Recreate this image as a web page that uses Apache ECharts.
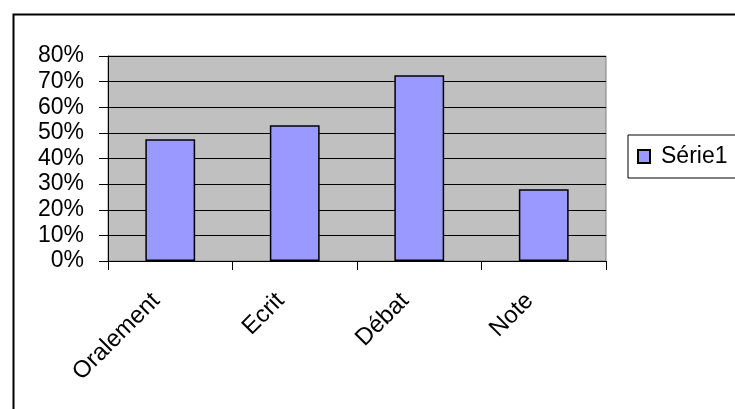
<!DOCTYPE html>
<html>
<head>
<meta charset="utf-8">
<script src="https://cdn.jsdelivr.net/npm/echarts@6/dist/echarts.min.js"></script>
<style>
  html, body { margin: 0; padding: 0; background: #fff; }
  #chart { width: 735px; height: 409px; }
</style>
</head>
<body>
<div id="chart"></div>
<script>
// Survey results: share of answers per mode
const categories = ['Oralement', 'Ecrit', 'Débat', 'Note'];
const serie1 = [47.5, 53, 72.5, 28];
const seriesName = 'Série1';
const yTicks = [0, 10, 20, 30, 40, 50, 60, 70, 80];

const font = '"Liberation Sans", Arial, sans-serif';
const chart = echarts.init(document.getElementById('chart'), null, { renderer: 'canvas' });

chart.setOption({
  animation: false,
  backgroundColor: '#ffffff',
  textStyle: { fontFamily: font },
  graphic: [{
    type: 'rect',
    left: 11, top: 12,
    shape: { width: 760, height: 420 },
    style: { fill: 'none', stroke: '#000', lineWidth: 2 },
    silent: true, z: -1
  }],
  grid: {
    left: 108, top: 56, width: 498, height: 205,
    show: true,
    backgroundColor: '#C0C0C0',
    borderColor: '#808080',
    borderWidth: 1,
    containLabel: false
  },
  legend: {
    left: 628, top: 135,
    data: [seriesName],
    icon: 'rect',
    itemWidth: 12, itemHeight: 13,
    borderColor: '#000', borderWidth: 1,
    padding: [10, 30, 10, 9],
    backgroundColor: '#fff',
    textStyle: { fontFamily: font, fontSize: 23, color: '#000', padding: [0, 0, 0, 6] }
  },
  xAxis: {
    type: 'category',
    data: categories,
    boundaryGap: true,
    axisLine: { lineStyle: { color: '#000', width: 1 } },
    axisTick: { show: true, length: 9, inside: false, lineStyle: { color: '#000' } },
    axisLabel: {
      rotate: 45, margin: 22, interval: 0,
      padding: [0, 20, 0, 0],
      fontFamily: font, fontSize: 24, color: '#000'
    },
    splitLine: { show: false }
  },
  yAxis: {
    type: 'value',
    min: 0, max: 80, interval: 10,
    axisLine: { show: true, lineStyle: { color: '#000', width: 1 } },
    axisTick: { show: true, length: 9, inside: false, lineStyle: { color: '#000' } },
    axisLabel: {
      margin: 24,
      fontFamily: font, fontSize: 23, color: '#000',
      formatter: v => yTicks.includes(v) ? v + '%' : ''
    },
    splitLine: { show: true, lineStyle: { color: '#000', width: 1 } }
  },
  series: [{
    name: seriesName,
    type: 'bar',
    data: serie1,
    barWidth: '40%',
    itemStyle: { color: '#9999FF', borderColor: '#000', borderWidth: 1.5 }
  }]
});
</script>
</body>
</html>
